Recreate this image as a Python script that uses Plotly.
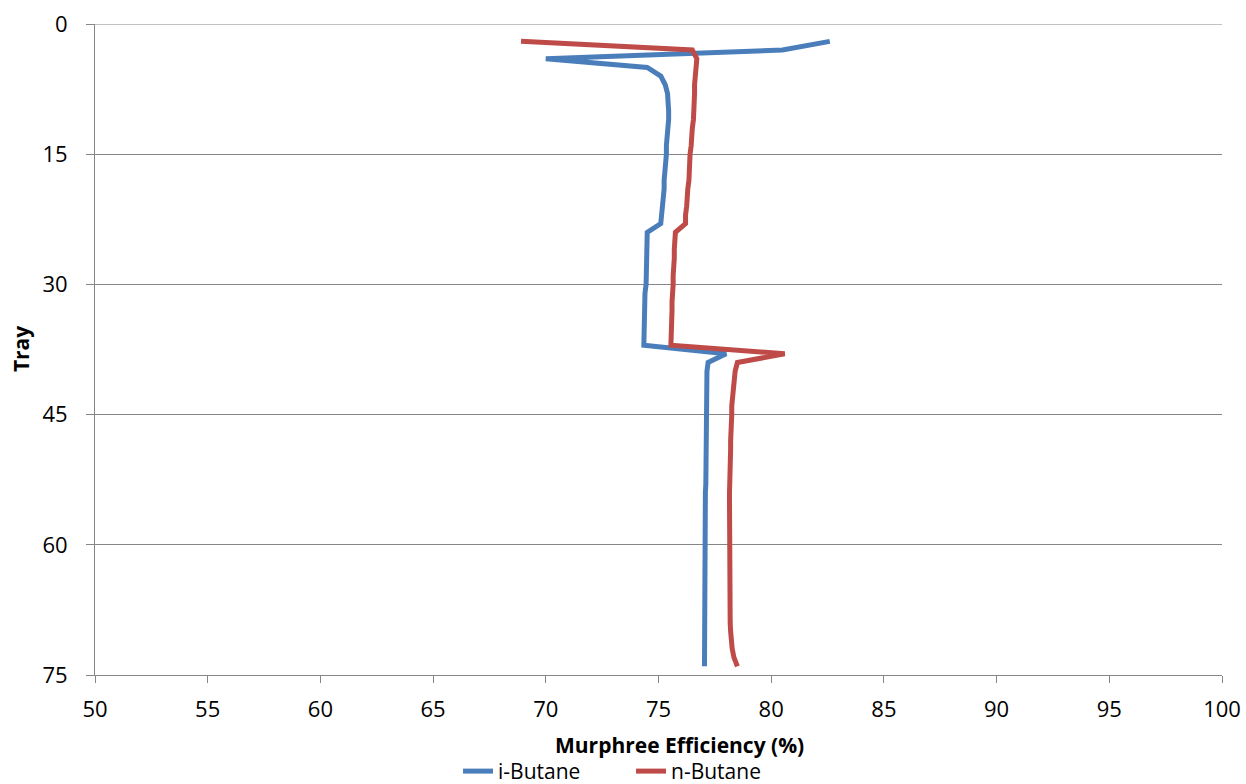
import plotly.graph_objects as go

trays = list(range(2, 75))

i_butane = [
    82.6, 80.5, 70.0, 74.5, 75.1, 75.3, 75.4, 75.45, 75.45, 75.45,   # 2-11
    75.4, 75.4, 75.35, 75.35, 75.3, 75.3, 75.25, 75.25, 75.2, 75.2,   # 12-21
    75.15, 75.1, 74.5, 74.5, 74.5, 74.45, 74.45, 74.45, 74.45, 74.4,  # 22-31
    74.4, 74.4, 74.4, 74.4, 74.35, 74.35, 78.0, 77.2, 77.15, 77.15,   # 32-41
    77.15, 77.15, 77.15, 77.12, 77.12, 77.12, 77.1, 77.1, 77.1, 77.1, # 42-51
    77.1, 77.1, 77.08, 77.08, 77.08, 77.08, 77.08, 77.08, 77.06, 77.06, # 52-61
    77.06, 77.06, 77.06, 77.05, 77.05, 77.05, 77.05, 77.05, 77.04, 77.04, # 62-71
    77.04, 77.04, 77.04,                                              # 72-74
]

n_butane = [
    68.9, 76.5, 76.7, 76.65, 76.65, 76.6, 76.6, 76.6, 76.55, 76.55,   # 2-11
    76.5, 76.5, 76.45, 76.4, 76.4, 76.35, 76.35, 76.3, 76.3, 76.25,   # 12-21
    76.2, 76.2, 75.75, 75.7, 75.7, 75.7, 75.65, 75.65, 75.65, 75.6,   # 22-31
    75.6, 75.6, 75.6, 75.6, 75.6, 75.55, 80.6, 78.5, 78.4, 78.35,     # 32-41
    78.3, 78.3, 78.25, 78.25, 78.22, 78.2, 78.2, 78.2, 78.18, 78.18,  # 42-51
    78.17, 78.16, 78.15, 78.15, 78.15, 78.14, 78.14, 78.14, 78.14, 78.14, # 52-61
    78.14, 78.14, 78.14, 78.15, 78.15, 78.16, 78.17, 78.18, 78.2, 78.22, # 62-71
    78.27, 78.35, 78.5,                                               # 72-74
]

x_ticks = list(range(50, 101, 5))
y_ticks = list(range(0, 76, 15))

FONT = "Open Sans"
GRID = "#868686"

fig = go.Figure()
fig.add_trace(go.Scatter(x=i_butane, y=trays, mode="lines", name="i-Butane",
                         line=dict(color="#4A7EBB", width=5)))
fig.add_trace(go.Scatter(x=n_butane, y=trays, mode="lines", name="n-Butane",
                         line=dict(color="#BE4B48", width=5)))

fig.update_layout(
    width=1246, height=784,
    margin=dict(l=95, r=24, t=24, b=109, autoexpand=False),
    plot_bgcolor="white", paper_bgcolor="white",
    font=dict(family=FONT, size=22, color="#000000"),
    showlegend=True,
    legend=dict(orientation="h", x=0.3676, xanchor="left", y=0.016, yanchor="middle",
                yref="container", xref="container",
                entrywidth=128, entrywidthmode="pixels",
                font=dict(family=FONT, size=21), tracegroupgap=0,
                bgcolor="rgba(0,0,0,0)"),
    xaxis=dict(range=[50, 100], tickvals=x_ticks, ticks="outside", ticklen=7,
               tickcolor=GRID, showline=True, linecolor=GRID, linewidth=1,
               showgrid=False, zeroline=False, automargin=False,
               ticklabelstandoff=8,
               tickfont=dict(family=FONT, size=22)),
    yaxis=dict(range=[75, 0], tickvals=y_ticks, ticks="outside", ticklen=8,
               tickcolor=GRID, showline=True, linecolor=GRID, linewidth=1,
               showgrid=True, gridcolor=GRID, gridwidth=1, zeroline=False,
               automargin=False, ticklabelstandoff=14,
               tickfont=dict(family=FONT, size=22)),
    shapes=[dict(type="line", xref="paper", yref="y", x0=0, x1=1, y0=0, y1=0,
                 line=dict(color=GRID, width=1), layer="below")],
    annotations=[
        dict(text="<b>Murphree Efficiency (%)</b>", xref="paper", yref="paper",
             x=0.519, y=-0.108, xanchor="center", yanchor="middle", showarrow=False,
             font=dict(family=FONT, size=21)),
        dict(text="<b>Tray</b>", xref="paper", yref="paper", textangle=-90,
             x=-0.066, y=0.5, xanchor="center", yanchor="middle", showarrow=False,
             font=dict(family=FONT, size=21)),
    ],
)

fig.write_html("out.html")
